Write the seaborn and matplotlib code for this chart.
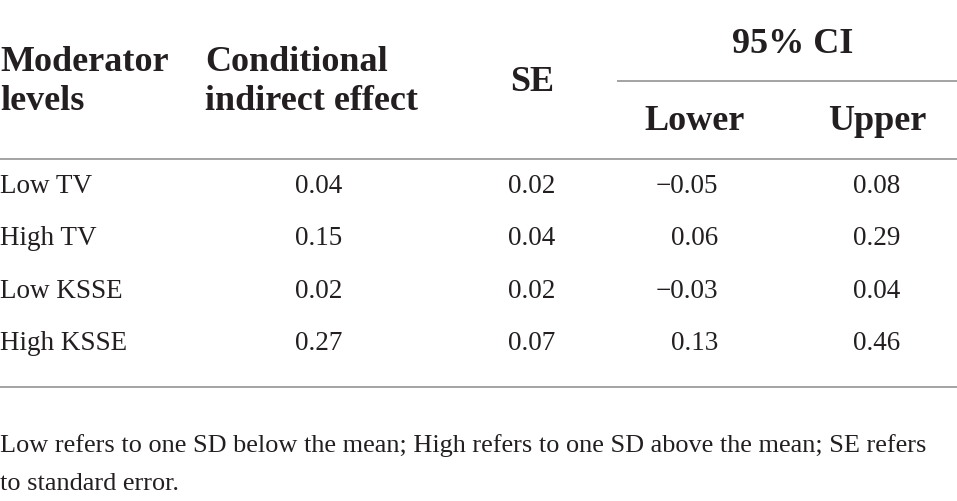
import matplotlib
matplotlib.use("Agg")
import matplotlib.pyplot as plt
import seaborn as sns

levels = ["Low TV", "High TV", "Low KSSE", "High KSSE"]
effect = ["0.04", "0.15", "0.02", "0.27"]
se = ["0.02", "0.04", "0.02", "0.07"]
lower = ["\u22120.05", "0.06", "\u22120.03", "0.13"]
upper = ["0.08", "0.29", "0.04", "0.46"]
footnote = ["Low refers to one SD below the mean; High refers to one SD above the mean; SE refers",
            "to standard error."]

sns.set_theme(style="white")
plt.rcParams['font.family'] = ['Liberation Serif', 'DejaVu Serif']

W, H = 957, 502
fig = plt.figure(figsize=(W / 100, H / 100), dpi=100)
ax = fig.add_axes([0, 0, 1, 1])
ax.set_xlim(0, W)
ax.set_ylim(H, 0)
ax.axis("off")

TXT = "#231f20"
LINE = "#a3a3a3"
HS = 26
BS = 19.5
FS = 18.9

def t(x, y, s, size, bold=False, ha="left"):
    ax.text(x, y, s, fontsize=size, fontweight="bold" if bold else "normal",
            color=TXT, ha=ha, va="baseline")

# header
t(0, 71, "Moderator", HS, True)
t(0, 110, "levels", HS, True)
t(205, 71, "Conditional", HS, True)
t(205, 110, "indirect effect", HS, True)
t(532, 91, "SE", HS, True, "center")
t(793, 53, "95% CI", HS, True, "center")
t(695, 130, "Lower", HS, True, "center")
t(877, 130, "Upper", HS, True, "center")

ax.plot([617, W], [82, 82], color=LINE, lw=1.4, solid_capstyle="butt")
ax.plot([0, W], [160, 160], color=LINE, lw=1.4, solid_capstyle="butt")
ax.plot([0, W], [387.5, 387.5], color=LINE, lw=1.4, solid_capstyle="butt")

baselines = [193, 245.5, 298, 350.5]
for i, y in enumerate(baselines):
    t(0, y, levels[i], BS)
    t(319, y, effect[i], BS, ha="center")
    t(532, y, se[i], BS, ha="center")
    t(718, y, lower[i], BS, ha="right")
    t(877, y, upper[i], BS, ha="center")

t(0, 452, footnote[0], FS)
t(0, 490, footnote[1], FS)

fig.savefig("out.png", dpi=100, facecolor="white")
